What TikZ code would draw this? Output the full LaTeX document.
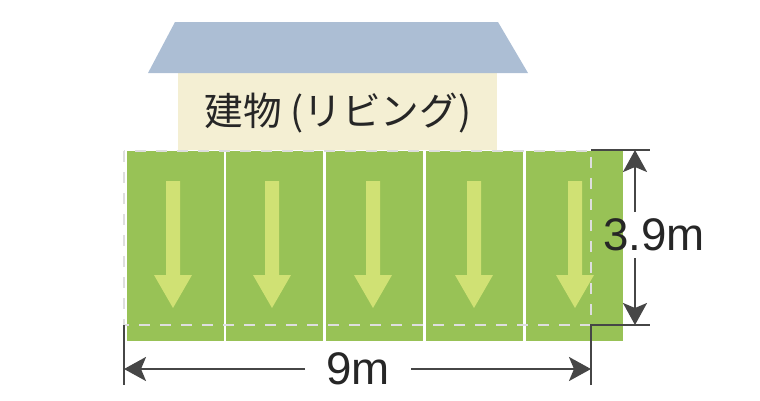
\documentclass[tikz,border=0pt]{standalone}
\usepackage{fontspec}
\usepackage{tikz}
\usetikzlibrary{arrows.meta}
\setmainfont{Liberation Sans}
\newfontfamily\jpfont{Noto Sans CJK JP}
\definecolor{roofblue}{RGB}{172,190,212}
\definecolor{wallcream}{RGB}{244,239,211}
\definecolor{lawngreen}{RGB}{152,194,86}
\definecolor{arrowlime}{RGB}{208,225,116}
\definecolor{dashgray}{RGB}{222,222,222}
\definecolor{dimgray}{RGB}{70,70,70}
\tikzset{
    dimline/.style={draw=dimgray, line width=0.45mm},
    dimarrow/.style={dimline, -{Stealth[length=4.4mm, width=4.8mm, inset=1mm]}},
    dimlabel/.style={font=\fontsize{26}{31}\selectfont, text=black!85, inner sep=0pt}
}

\begin{document}
\begin{tikzpicture}[x=0.2mm, y=-0.2mm]
                \useasboundingbox (0,0) rectangle (760,400);

                % Building
                \fill[wallcream] (178,73) rectangle (497,150);
                \fill[roofblue] (175,22) -- (498,22) -- (528,73) -- (148,73) -- cycle;
                \node[font=\jpfont\fontsize{22}{27}\selectfont, text=black!85, inner sep=0pt] (building) at (338,113) {建物 (リビング)};

                % Lawn panels and their arrows
                \foreach \x/\c in {127/173, 226/272, 326/373, 426/474, 526/575} {
                    \fill[lawngreen] (\x,151) rectangle ++(97,190);
                    \fill[arrowlime] (\c-7,181) -- (\c+7,181) -- (\c+7,275) -- (\c+19,275)
                        -- (\c,308) -- (\c-19,275) -- (\c-7,275) -- cycle;
                }

                % Lawn outline
                \draw[dashgray, line width=0.55mm, dash pattern=on 2.2mm off 2mm] (124,151) rectangle (591,325);

                % Extension lines
                \coordinate (topleft) at (591,150);
                \coordinate (topright) at (650,150);
                \coordinate (botleft) at (591,325);
                \coordinate (botright) at (650,325);
                \coordinate (tickleft) at (124,325);
                \coordinate (tickleftend) at (124,385);
                \coordinate (tickrightend) at (591,385);
                \draw[dimline] (topleft) -- (topright);
                \draw[dimline] (tickrightend) -- (botleft) -- (botright);
                \draw[dimline] (tickleft) -- (tickleftend);

                % Height
                \node[dimlabel] (height) at (654,235) {3.9m};
                \coordinate (heighttop) at (635,150);
                \coordinate (heightbot) at (635,325);
                \draw[dimarrow] (635,212) -- (heighttop);
                \draw[dimarrow] (635,258) -- (heightbot);

                % Width
                \node[dimlabel] (width) at (358,369) {9m};
                \coordinate (widthleft) at (124,369);
                \coordinate (widthright) at (591,369);
                \draw[dimarrow] (305,369) -- (widthleft);
                \draw[dimarrow] (411,369) -- (widthright);
            \end{tikzpicture}
\end{document}
